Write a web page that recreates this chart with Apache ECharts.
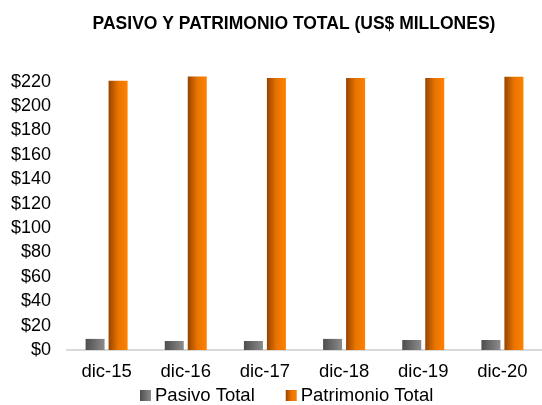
<!DOCTYPE html>
<html><head><meta charset="utf-8">
<script src="https://cdn.jsdelivr.net/npm/echarts@6/dist/echarts.min.js"></script>
<style>html,body{margin:0;padding:0;background:#fff}#c{width:542px;height:405px}</style>
</head><body><div id="c"></div>
<script>
const categories = ['dic-15','dic-16','dic-17','dic-18','dic-19','dic-20'];
const pasivoTotal = [9.1, 7.4, 7.4, 9.1, 8.2, 8.2];
const patrimonioTotal = [220.6, 224.1, 223.0, 223.0, 223.0, 223.9];
const yTicks = [0,20,40,60,80,100,120,140,160,180,200,220];

const font = 'Liberation Sans, Arial, sans-serif';
const grayGrad = new echarts.graphic.LinearGradient(0,0,1,0,[{offset:0,color:'#4e4e4e'},{offset:1,color:'#8c8c8c'}]);
const orangeGrad = new echarts.graphic.LinearGradient(0,0,1,0,[{offset:0,color:'#974300'},{offset:0.5,color:'#e87400'},{offset:1,color:'#ff8000'}]);

const chart = echarts.init(document.getElementById('c'), null, {renderer:'canvas'});
chart.setOption({
  animation:false,
  backgroundColor:'#fff',
  title:{text:'PASIVO Y PATRIMONIO TOTAL (US$ MILLONES)', left:289, textAlign:'center', top:10,
    textStyle:{fontFamily:font, fontSize:17.5, fontWeight:'bold', color:'#000'}},
  legend:{top:386, left:140, padding:0, itemWidth:11, itemHeight:11, itemGap:31,
    textStyle:{fontFamily:font, fontSize:18.5, color:'#000', padding:[0,0,0,-1]},
    data:[{name:'Pasivo Total', icon:'rect'},{name:'Patrimonio Total', icon:'rect'}]},
  grid:{left:67, width:480, top:64.5, bottom:55, containLabel:false},
  xAxis:{type:'category', data:categories,
    axisLine:{lineStyle:{color:'#d9d9d9', width:2}}, axisTick:{show:false},
    axisLabel:{fontFamily:font, fontSize:18.5, color:'#000', margin:12}},
  yAxis:{type:'value', min:0, max:234, interval:20,
    axisLine:{show:false}, axisTick:{show:false}, splitLine:{show:false},
    axisLabel:{fontFamily:font, fontSize:18, color:'#000', margin:16, showMaxLabel:false,
      formatter:v=> yTicks.includes(v) ? '$'+v : ''}},
  series:[
    {name:'Pasivo Total', type:'bar', data:pasivoTotal, barWidth:19, barGap:'21%', itemStyle:{color:grayGrad}},
    {name:'Patrimonio Total', type:'bar', data:patrimonioTotal, barWidth:19, itemStyle:{color:orangeGrad}}
  ]
});
</script></body></html>
